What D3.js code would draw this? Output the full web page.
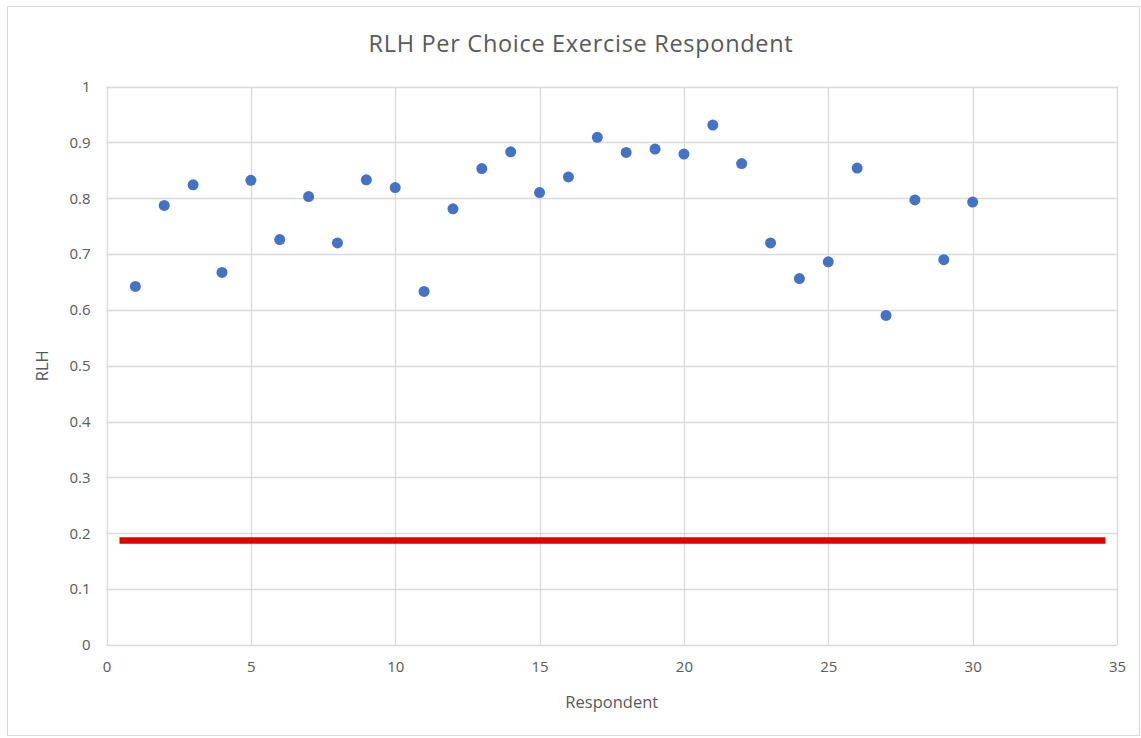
<!DOCTYPE html>
<html>
<head>
<meta charset="utf-8">
<script src="https://cdn.jsdelivr.net/npm/d3@7"></script>
<style>
  html, body { margin: 0; padding: 0; background: #fff; }
  svg { display: block; font-family: "Open Sans", "Liberation Sans", sans-serif; }
</style>
</head>
<body>
<svg id="chart" width="1141" height="738"></svg>
<script>
// Respondent number and their RLH score
const respondents = [1,2,3,4,5,6,7,8,9,10,11,12,13,14,15,16,17,18,19,20,21,22,23,24,25,26,27,28,29,30];
const rlh = [0.642,0.787,0.824,0.667,0.832,0.726,0.803,0.720,0.833,0.819,
             0.633,0.781,0.853,0.883,0.810,0.838,0.909,0.882,0.888,0.879,
             0.931,0.862,0.720,0.656,0.686,0.854,0.590,0.797,0.690,0.793];
// Chance-level reference line
const chanceLevel = 0.187;
const chanceSpan = [0.45, 34.6];

const xTicks = [0,5,10,15,20,25,30,35];
const yTicks = [0,0.1,0.2,0.3,0.4,0.5,0.6,0.7,0.8,0.9,1];

const svg = d3.select("#chart");
const W = 1141, H = 738;
const plot = { left: 106.5, right: 1117, top: 86.5, bottom: 645 };

// Outer chart frame
svg.append("rect")
  .attr("x", 7.5).attr("y", 6.5)
  .attr("width", W - 9).attr("height", H - 9)
  .attr("fill", "#fff").attr("stroke", "#d9d9d9").attr("stroke-width", 1);

const x = d3.scaleLinear().domain([0, 35]).range([plot.left, plot.right]);
const y = d3.scaleLinear().domain([0, 1]).range([plot.bottom, plot.top]);

// Gridlines
const grid = svg.append("g");
grid.selectAll("line.h").data(yTicks).join("line")
  .attr("x1", plot.left).attr("x2", plot.right)
  .attr("y1", d => Math.round(y(d)) + 0.5).attr("y2", d => Math.round(y(d)) + 0.5)
  .attr("stroke", "#d9d9d9").attr("stroke-width", 1.3);
grid.selectAll("line.v").data(xTicks).join("line")
  .attr("y1", plot.top).attr("y2", plot.bottom)
  .attr("x1", d => Math.round(x(d)) + 0.5).attr("x2", d => Math.round(x(d)) + 0.5)
  .attr("stroke", "#d9d9d9").attr("stroke-width", 1.3);

// Axes (labels only; lines come from the grid)
const xAxis = d3.axisBottom(x).tickValues(xTicks).tickSize(0).tickPadding(16).tickFormat(d3.format("d"));
const yAxis = d3.axisLeft(y).tickValues(yTicks).tickSize(0).tickPadding(16).tickFormat(d => d === 0 ? "0" : d === 1 ? "1" : d3.format(".1f")(d));

const gx = svg.append("g").attr("transform", `translate(0,${plot.bottom})`).call(xAxis);
const gy = svg.append("g").attr("transform", `translate(${plot.left},0)`).call(yAxis);
[gx, gy].forEach(g => {
  g.select(".domain").remove();
  g.selectAll("text").attr("fill", "#595959").attr("font-size", 15)
    .attr("font-family", "'Open Sans', 'Liberation Sans', sans-serif");
});

// Chance-level line
svg.append("line")
  .attr("x1", x(chanceSpan[0])).attr("x2", x(chanceSpan[1]))
  .attr("y1", y(chanceLevel)).attr("y2", y(chanceLevel))
  .attr("stroke", "#e00000").attr("stroke-width", 6.5);

// Respondent points
svg.append("g").selectAll("circle")
  .data(respondents.map((r, i) => ({ r, v: rlh[i] })))
  .join("circle")
  .attr("cx", d => x(d.r)).attr("cy", d => y(d.v))
  .attr("r", 5.5).attr("fill", "#4472c4");

// Titles
svg.append("text")
  .attr("x", 581).attr("y", 52)
  .attr("text-anchor", "middle").attr("fill", "#595959")
  .attr("font-size", 23.5).attr("letter-spacing", 0.7)
  .text("RLH Per Choice Exercise Respondent");

svg.append("text")
  .attr("x", (plot.left + plot.right) / 2).attr("y", 708)
  .attr("text-anchor", "middle").attr("fill", "#595959")
  .attr("font-size", 16.5).text("Respondent");

svg.append("text")
  .attr("transform", `translate(48,${(plot.top + plot.bottom) / 2}) rotate(-90)`)
  .attr("text-anchor", "middle").attr("fill", "#595959")
  .attr("font-size", 16.5).text("RLH");
</script>
</body>
</html>
